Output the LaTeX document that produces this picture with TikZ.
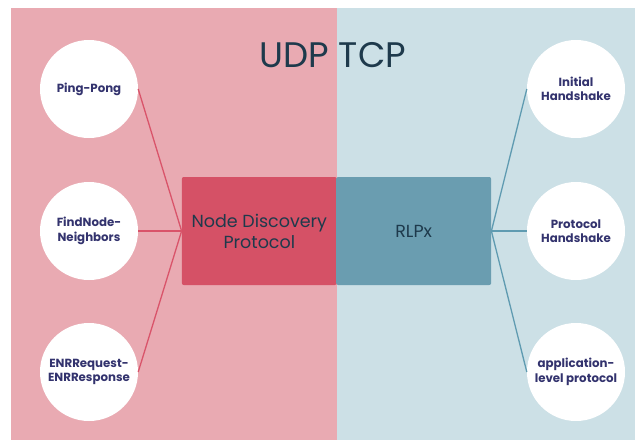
\documentclass[tikz,border=0pt]{standalone}
\usepackage{fontspec}
\setmainfont{Poppins}
\definecolor{udpbg}{HTML}{E9AAB2}
\definecolor{tcpbg}{HTML}{CCE0E6}
\definecolor{udpbox}{HTML}{D55166}
\definecolor{tcpbox}{HTML}{6A9DB0}
\definecolor{udpline}{HTML}{D9546A}
\definecolor{tcpline}{HTML}{5F9BB1}
\definecolor{titletext}{HTML}{1E3A4C}
\definecolor{peertext}{HTML}{33336E}
\tikzset{
  peer/.style={circle,fill=white,minimum size=98pt,inner sep=0pt,align=center,
    text=peertext,font=\fontsize{11.8}{14.5}\selectfont\bfseries},
  proto/.style={rounded corners=2pt,minimum width=155pt,minimum height=108pt,
    inner sep=0pt,align=center,text=titletext,font=\fontsize{17.5}{21}\selectfont},
  udplink/.style={udpline,line width=1.3pt},
  tcplink/.style={tcpline,line width=1.3pt}
}
\begin{document}
\begin{tikzpicture}[x=1pt,y=-1pt]
\useasboundingbox (0,0) rectangle (635,440);
\fill[white] (0,0) rectangle (635,440);
\fill[udpbg] (11,8) rectangle (337,440); % UDP side
\fill[tcpbg] (337,8) rectangle (635,440); % TCP side
\node[text=titletext,font=\fontsize{35.5}{40}\selectfont] (title) at (333,55) {UDP TCP};
% protocol boxes
\node[proto,fill=udpbox,anchor=east] (disc) at (337,231) {Node Discovery\\Protocol};
\node[proto,fill=tcpbox,anchor=west] (rlpx) at (336,231) {RLPx};
% left circles
\node[peer] (pingpong) at (89,89) {Ping-Pong};
\node[peer] (findnode) at (89,231) {FindNode-\\Neighbors};
\node[peer] (enr) at (89,372) {ENRRequest-\\ENRResponse};
% right circles
\node[peer] (initial) at (576,89) {Initial\\Handshake};
\node[peer] (protohs) at (576,231) {Protocol\\Handshake};
\node[peer] (applevel) at (576,372) {application-\\level protocol};
\foreach \n in {pingpong,findnode,enr} % links to discovery
\draw[udplink] (\n.east) -- (disc.west);
\foreach \n in {initial,protohs,applevel} % links to rlpx
\draw[tcplink] (\n.west) -- (rlpx.east);
\end{tikzpicture}
\end{document}
